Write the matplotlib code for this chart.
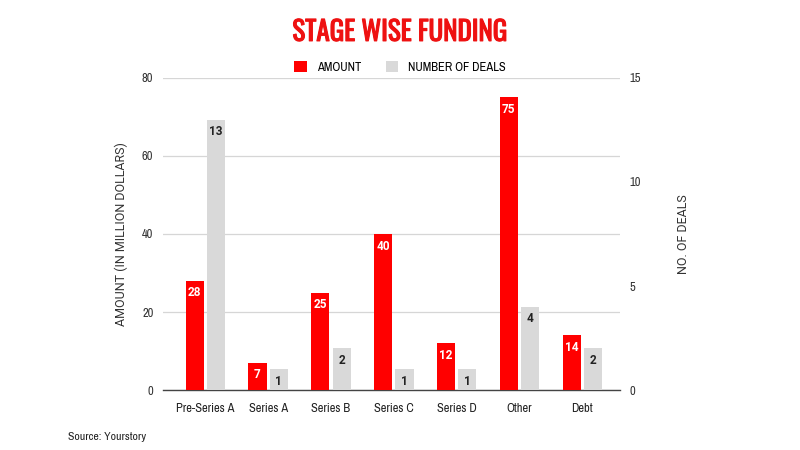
import matplotlib.pyplot as plt
import matplotlib.patheffects as pe
import numpy as np

stages = ['Pre-Series A', 'Series A', 'Series B', 'Series C', 'Series D', 'Other', 'Debt']
amount = [28, 7, 25, 40, 12, 75, 14]
deals = [13, 1, 2, 1, 1, 4, 2]

RED = '#ff0000'
GREY = '#d9d9d9'
narrow = ['Archivo Narrow', 'Roboto Condensed', 'DejaVu Sans']
title_font = ['Oswald', 'Antonio', 'Fjalla One', 'Archivo Narrow', 'DejaVu Sans']
label_font = ['Roboto', 'DejaVu Sans']

fig = plt.figure(figsize=(8, 4.5), dpi=100)
ax = fig.add_axes([0.204, 0.1333, 0.571, 0.6934])
ax2 = ax.twinx()

x = np.arange(len(stages))
w = 0.29
gap = 0.025
b1 = ax.bar(x - w / 2 - gap, amount, w, color=RED, zorder=3)
b2 = ax2.bar(x + w / 2 + gap, deals, w, color=GREY, zorder=3)

# value labels inside top of bars
for bar, v in zip(b1, amount):
    ax.annotate(str(v), (bar.get_x() + bar.get_width() / 2, bar.get_height()),
                xytext=(0, -4), textcoords='offset points', ha='center', va='top',
                color='white', fontsize=8.5, fontweight='bold', family=label_font, zorder=4)
for bar, v in zip(b2, deals):
    ax2.annotate(str(v), (bar.get_x() + bar.get_width() / 2, bar.get_height()),
                 xytext=(0, -4), textcoords='offset points', ha='center', va='top',
                 color='#222222', fontsize=8.5, fontweight='bold', family=label_font, zorder=4)

ax.set_xlim(-0.67, 6.6)
ax.set_ylim(0, 80)
ax.set_yticks([0, 20, 40, 60, 80])
ax2.set_ylim(0, 15)
ax2.set_yticks([0, 5, 10, 15])
ax.set_xticks(x)
ax.set_xticklabels(stages, family=narrow, fontsize=9, color='#222222')
for t in ax.get_yticklabels() + ax2.get_yticklabels():
    t.set_family(narrow)
    t.set_fontsize(9)
    t.set_color('#333333')

ax.grid(axis='y', color='#d6d6d6', linewidth=0.9, zorder=0)
ax.set_axisbelow(True)
for a in (ax, ax2):
    for s in ('top', 'left', 'right'):
        a.spines[s].set_visible(False)
    a.tick_params(length=0, pad=7)
ax.spines['bottom'].set_color('#444444')
ax.spines['bottom'].set_linewidth(1.0)
ax2.spines['bottom'].set_visible(False)
ax.tick_params(axis='x', pad=9)

ax.set_ylabel('AMOUNT (IN MILLION DOLLARS)', family=label_font,
              fontsize=9, color='#333333', labelpad=10)
ax2.set_ylabel('NO. OF DEALS', family=label_font,
               fontsize=9, color='#333333', labelpad=26)

fig.text(0.5, 0.928, 'STAGE WISE FUNDING', ha='center', va='center',
         color='#ee1111', fontsize=19.5, fontweight='bold', family=title_font,
         path_effects=[pe.withStroke(linewidth=0.8, foreground='#ee1111')])

# legend
fig.legend([b1, b2], ['AMOUNT', 'NUMBER OF DEALS'], loc='center', ncol=2,
           bbox_to_anchor=(0.5, 0.851), frameon=False, handlelength=1.0,
           handleheight=1.0, columnspacing=2.0, handletextpad=0.8,
           prop={'family': narrow, 'size': 9})

fig.text(0.085, 0.028, 'Source: Yourstory', ha='left', va='center',
         fontsize=8.5, color='#222222', family=narrow)

fig.savefig('out.png', dpi=100)
